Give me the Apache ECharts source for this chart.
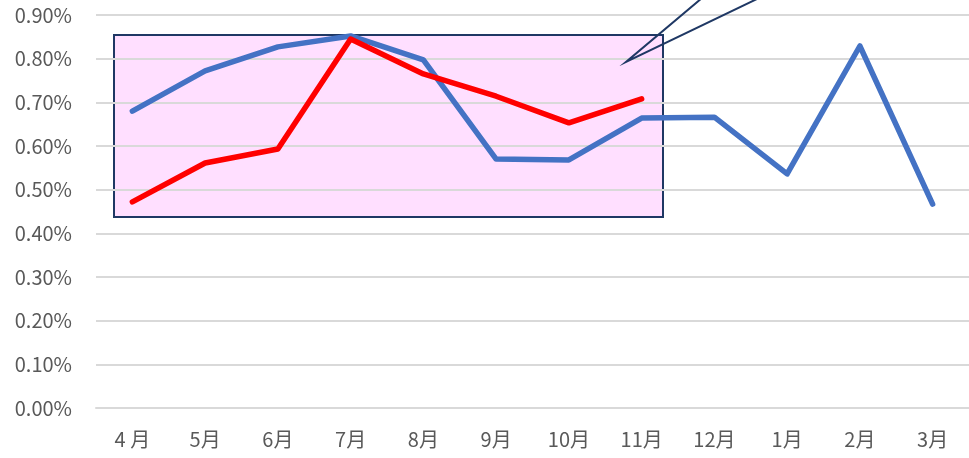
<!DOCTYPE html>
<html>
<head>
<meta charset="utf-8">
<script src="https://cdn.jsdelivr.net/npm/echarts@6/dist/echarts.min.js"></script>
<style>
  html, body { margin: 0; padding: 0; background: #fff; }
  #main { width: 969px; height: 458px; }
</style>
</head>
<body>
<div id="main"></div>
<script>
// months (fiscal year from April)
const months = ['4 月', '5月', '6月', '7月', '8月', '9月', '10月', '11月', '12月', '1月', '2月', '3月'];
// values in percent
const blueSeries = [0.680, 0.772, 0.827, 0.852, 0.797, 0.570, 0.568, 0.664, 0.666, 0.536, 0.829, 0.467];
const redSeries = [0.472, 0.561, 0.593, 0.845, 0.765, 0.714, 0.653, 0.708];

let chart = echarts.init(document.getElementById('main'));
const font = 'Noto Sans CJK JP';

let option = {
  animation: false,
  backgroundColor: '#ffffff',
  grid: { left: 96, right: 0, top: 15, bottom: 50 },
  xAxis: {
    type: 'category',
    data: months,
    boundaryGap: true,
    axisLine: { show: true, lineStyle: { color: '#d9d9d9', width: 2 } },
    axisTick: { show: false },
    axisLabel: { color: '#595959', fontSize: 20, fontFamily: font, margin: 21 }
  },
  yAxis: {
    type: 'value',
    min: 0,
    max: 0.9,
    interval: 0.1,
    axisLine: { show: false },
    axisTick: { show: false },
    axisLabel: {
      color: '#595959', fontSize: 20, fontFamily: font, margin: 24,
      formatter: function (v) { return v.toFixed(2) + '%'; }
    },
    splitLine: { lineStyle: { color: '#d9d9d9', width: 2 } }
  },
  graphic: [
    {
      type: 'rect',
      z: -10,
      silent: true,
      shape: { x: 114, y: 35, width: 549, height: 182 },
      style: { fill: '#ffdfff', stroke: '#1f3864', lineWidth: 2 }
    },
    {
      type: 'polyline',
      z: 100,
      silent: true,
      shape: { points: [[702, -2], [626, 62], [759, -2]] },
      style: { stroke: '#1f3864', lineWidth: 2, fill: null }
    }
  ],
  series: [
    {
      name: 'blue',
      type: 'line',
      data: blueSeries,
      symbol: 'none',
      lineStyle: { color: '#4472c4', width: 5.5, cap: 'round', join: 'round' },
      itemStyle: { color: '#4472c4' },
      z: 3
    },
    {
      name: 'red',
      type: 'line',
      data: redSeries,
      symbol: 'none',
      lineStyle: { color: '#ff0000', width: 5.5, cap: 'round', join: 'round' },
      itemStyle: { color: '#ff0000' },
      z: 4
    }
  ]
};
chart.setOption(option);
</script>
</body>
</html>
